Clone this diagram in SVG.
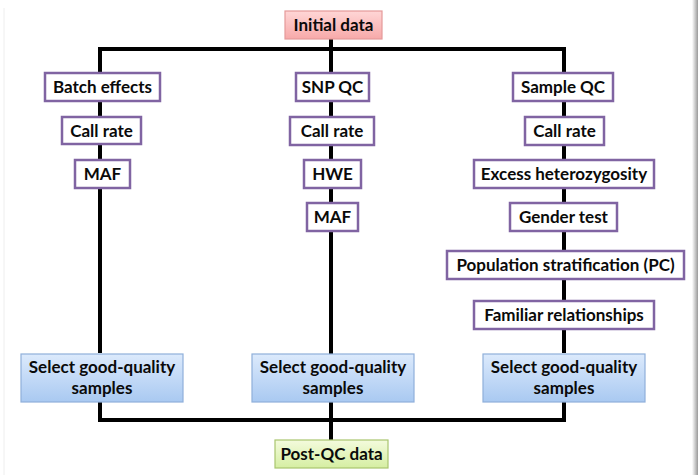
<svg xmlns="http://www.w3.org/2000/svg" width="698" height="475" viewBox="0 0 698 475">
<defs>
<linearGradient id="gPink" x1="0" y1="0" x2="0" y2="1"><stop offset="0" stop-color="#FFD6D6"/><stop offset="1" stop-color="#F7A9A9"/></linearGradient>
<linearGradient id="gBlue" x1="0" y1="0" x2="0" y2="1"><stop offset="0" stop-color="#DCEAFC"/><stop offset="1" stop-color="#A9C9F1"/></linearGradient>
<linearGradient id="gGreen" x1="0" y1="0" x2="0" y2="1"><stop offset="0" stop-color="#F4FBDD"/><stop offset="1" stop-color="#D5EEA2"/></linearGradient>
<linearGradient id="gShadow" x1="0" y1="0" x2="1" y2="0"><stop offset="0" stop-color="#FFFFFF"/><stop offset="1" stop-color="#9A9A9A"/></linearGradient>
</defs>
<style>
.t{font-family:Lato,"Open Sans",sans-serif;font-weight:bold;font-size:17px;fill:#0a0a0a;text-anchor:middle}
.p{fill:#fff;stroke:#8064A2;stroke-width:2.5}
.pink{fill:url(#gPink);stroke:#E59A9A;stroke-width:1.2}
.blue{fill:url(#gBlue);stroke:#8FB0DA;stroke-width:1.2}
.green{fill:url(#gGreen);stroke:#A9C56E;stroke-width:1.2}
.c{stroke:#000;stroke-width:4;fill:none}
</style>
<rect x="0" y="0" width="698" height="475" fill="#fff"/>
<rect x="692" y="0" width="6" height="475" fill="url(#gShadow)"/>
<line x1="4" y1="8" x2="4" y2="475" stroke="#eee" stroke-width="1"/>
<g id="connectors">
<path class="c" d="M100,353 V49 H564 V353"/>
<path class="c" d="M331,38 V440"/>
<path class="c" d="M100,401 V420 H564 V401"/>
</g>
<g id="initial"><rect class="pink" x="285" y="11" width="97" height="28"/><text class="t" x="333.5" y="31">Initial data</text></g>
<g id="batch"><rect class="p" x="45" y="73" width="115" height="28"/><text class="t" x="102.5" y="93">Batch effects</text></g>
<g id="snpqc"><rect class="p" x="296" y="73" width="73" height="28"/><text class="t" x="332.5" y="93">SNP QC</text></g>
<g id="sampleqc"><rect class="p" x="513" y="73" width="100" height="28"/><text class="t" x="563" y="93">Sample QC</text></g>
<g id="callrate1"><rect class="p" x="62" y="117" width="79" height="27"/><text class="t" x="101.5" y="137">Call rate</text></g>
<g id="callrate2"><rect class="p" x="290" y="117" width="84" height="28"/><text class="t" x="332" y="137">Call rate</text></g>
<g id="callrate3"><rect class="p" x="525" y="117" width="79" height="28"/><text class="t" x="564.5" y="137">Call rate</text></g>
<g id="maf1"><rect class="p" x="75" y="160" width="55" height="28"/><text class="t" x="102.5" y="180">MAF</text></g>
<g id="hwe"><rect class="p" x="304" y="160" width="57" height="28"/><text class="t" x="332.5" y="180">HWE</text></g>
<g id="maf2"><rect class="p" x="307" y="203" width="51" height="28"/><text class="t" x="332.5" y="223">MAF</text></g>
<g id="excess"><rect class="p" x="474" y="160" width="180" height="28"/><text class="t" x="564" y="180">Excess heterozygosity</text></g>
<g id="gender"><rect class="p" x="510" y="203" width="107" height="28"/><text class="t" x="563.5" y="223">Gender test</text></g>
<g id="popstrat"><rect class="p" x="447" y="251" width="237" height="28"/><text class="t" x="565.5" y="271">Population stratification (PC)</text></g>
<g id="familiar"><rect class="p" x="474" y="301" width="180" height="28"/><text class="t" x="564" y="321">Familiar relationships</text></g>
<g id="select1"><rect class="blue" x="21" y="354" width="162" height="48"/><text class="t" x="102" y="373">Select good-quality</text><text class="t" x="102" y="394">samples</text></g>
<g id="select2"><rect class="blue" x="252" y="354" width="162" height="48"/><text class="t" x="333" y="373">Select good-quality</text><text class="t" x="333" y="394">samples</text></g>
<g id="select3"><rect class="blue" x="483" y="354" width="162" height="48"/><text class="t" x="564" y="373">Select good-quality</text><text class="t" x="564" y="394">samples</text></g>
<g id="postqc"><rect class="green" x="275" y="440" width="113" height="28"/><text class="t" x="331.5" y="460">Post-QC data</text></g>
</svg>
